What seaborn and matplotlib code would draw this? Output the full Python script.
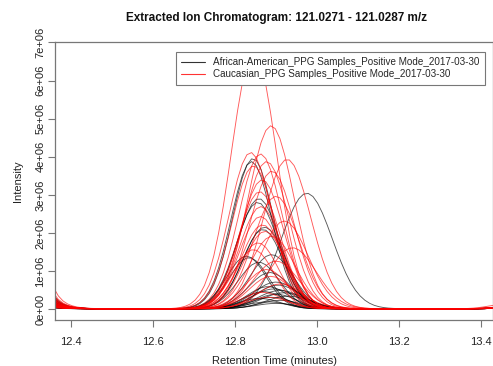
import numpy as np
import pandas as pd
import matplotlib
matplotlib.use("Agg")
import matplotlib.pyplot as plt
import seaborn as sns

# Peak table per sample: apex retention time (min), apex intensity (counts), peak sigma (min)
aa_rt = [12.844, 12.840, 12.975, 12.858, 12.855, 12.872, 12.868, 12.828, 12.834, 12.889,
         12.858, 12.885, 12.900, 12.905, 12.880, 12.895, 12.910, 12.870, 12.920, 12.900,
         12.930, 12.890, 12.860, 12.910, 12.880, 12.900]
aa_int = [3.94e6, 3.86e6, 3.03e6, 2.89e6, 2.79e6, 2.14e6, 2.08e6, 1.38e6, 1.34e6, 1.42e6,
          1.22e6, 0.95e6, 0.70e6, 0.62e6, 0.58e6, 0.52e6, 0.48e6, 0.45e6, 0.42e6, 0.38e6,
          0.33e6, 0.30e6, 0.27e6, 0.22e6, 0.18e6, 0.14e6]
aa_sigma = [0.050, 0.050, 0.062, 0.052, 0.052, 0.052, 0.050, 0.048, 0.048, 0.052,
            0.050, 0.052, 0.055, 0.055, 0.050, 0.055, 0.055, 0.050, 0.055, 0.050,
            0.055, 0.050, 0.050, 0.050, 0.050, 0.050]
# intensity of the preceding peak's tail at the start of the window
aa_lead = [0.30e6, 0.22e6, 0.16e6, 0.11e6, 0.07e6, 0.26e6, 0.04e6, 0.19e6, 0.13e6, 0.06e6,
           0.09e6, 0.20e6, 0.03e6, 0.15e6, 0.05e6, 0.10e6, 0.24e6, 0.07e6, 0.02e6, 0.12e6,
           0.05e6, 0.17e6, 0.08e6, 0.02e6, 0.10e6, 0.04e6]
# intensity of the following peak at the end of the window
aa_trail = [0.01e6, 0.02e6, 0.03e6, 0.01e6, 0.02e6, 0.01e6, 0.01e6, 0.03e6, 0.01e6, 0.02e6,
            0.01e6, 0.01e6, 0.02e6, 0.01e6, 0.03e6, 0.01e6, 0.01e6, 0.02e6, 0.01e6, 0.01e6,
            0.02e6, 0.01e6, 0.01e6, 0.02e6, 0.01e6, 0.01e6]

cau_rt = [12.846, 12.888, 12.838, 12.862, 12.877, 12.927, 12.890, 12.845, 12.866, 12.860,
          12.863, 12.900, 12.862, 12.867, 12.873, 12.890, 12.920, 12.856, 12.845, 12.877,
          12.887, 12.867, 12.900, 12.940, 12.910, 12.880]
cau_int = [6.75e6, 4.80e6, 4.10e6, 4.06e6, 3.86e6, 3.92e6, 3.61e6, 3.75e6, 3.38e6, 3.07e6,
           2.68e6, 2.95e6, 2.42e6, 2.20e6, 2.03e6, 1.90e6, 2.30e6, 1.73e6, 1.55e6, 1.03e6,
           0.85e6, 0.43e6, 1.25e6, 1.60e6, 0.65e6, 0.30e6]
cau_sigma = [0.055, 0.056, 0.052, 0.053, 0.055, 0.058, 0.055, 0.052, 0.053, 0.052,
             0.052, 0.056, 0.052, 0.052, 0.052, 0.055, 0.058, 0.050, 0.050, 0.052,
             0.052, 0.050, 0.055, 0.058, 0.055, 0.050]
cau_lead = [0.48e6, 0.15e6, 0.25e6, 0.09e6, 0.20e6, 0.06e6, 0.30e6, 0.11e6, 0.04e6, 0.16e6,
            0.22e6, 0.08e6, 0.13e6, 0.35e6, 0.05e6, 0.18e6, 0.10e6, 0.03e6, 0.27e6, 0.07e6,
            0.12e6, 0.21e6, 0.03e6, 0.15e6, 0.08e6, 0.05e6]
cau_trail = [0.02e6, 0.12e6, 0.03e6, 0.01e6, 0.05e6, 0.02e6, 0.01e6, 0.03e6, 0.02e6, 0.04e6,
             0.01e6, 0.02e6, 0.01e6, 0.03e6, 0.01e6, 0.02e6, 0.01e6, 0.02e6, 0.01e6, 0.03e6,
             0.01e6, 0.01e6, 0.02e6, 0.01e6, 0.01e6, 0.01e6]

group_names = ["African-American_PPG Samples_Positive Mode_2017-03-30",
               "Caucasian_PPG Samples_Positive Mode_2017-03-30"]
group_colors = ["black", "red"]

title = "Extracted Ion Chromatogram: 121.0271 - 121.0287 m/z"
x_ticks = [12.4, 12.6, 12.8, 13.0, 13.2, 13.4]
y_ticks = [0, 1e6, 2e6, 3e6, 4e6, 5e6, 6e6, 7e6]
y_tick_labels = ["0e+00", "1e+06", "2e+06", "3e+06", "4e+06", "5e+06", "6e+06", "7e+06"]

# MS1 scan times across the extraction window
scan_times = np.arange(12.30, 13.50, 0.0115)


def trace(rt, height, sigma, lead, trail):
    peak = height * np.exp(-0.5 * ((scan_times - rt) / sigma) ** 2)
    tail_in = lead * np.exp(-(scan_times - 12.361) / 0.023)
    tail_out = trail * np.exp(-0.5 * ((scan_times - 13.46) / 0.04) ** 2)
    return peak + tail_in + tail_out + 0.015e6


rows = []
groups = [(group_names[0], aa_rt, aa_int, aa_sigma, aa_lead, aa_trail),
          (group_names[1], cau_rt, cau_int, cau_sigma, cau_lead, cau_trail)]
for gname, rts, ints, sigs, leads, trails in groups:
    for i, (rt, h, s, ld, tr) in enumerate(zip(rts, ints, sigs, leads, trails)):
        y = trace(rt, h, s, ld, tr)
        rows.append(pd.DataFrame({"time": scan_times, "intensity": y,
                                  "sample": f"{gname}_{i}", "group": gname}))
df = pd.concat(rows, ignore_index=True)

sns.set_theme(style="white")
plt.rcParams["font.family"] = ["Liberation Sans", "DejaVu Sans"]

W, H = 493, 366
fig = plt.figure(figsize=(W / 100, H / 100), dpi=100)
ax = fig.add_axes([55 / W, 1 - 320 / H, (W - 55) / W, (320 - 42) / H])

sns.lineplot(data=df, x="time", y="intensity", hue="group", units="sample",
             estimator=None, palette=dict(zip(group_names, group_colors)),
             hue_order=group_names, linewidth=0.65, alpha=0.65, ax=ax, legend=False,
             sort=False)

ax.set_xlim(12.361, 13.429)
ax.set_ylim(-0.28e6, 7.01e6)
ax.set_xticks(x_ticks)
ax.set_xticklabels([f"{t:.1f}" for t in x_ticks], fontsize=8, color="#222222")
ax.set_yticks(y_ticks)
ax.set_yticklabels(y_tick_labels, fontsize=8, rotation=90, va="center", color="#222222")
ax.tick_params(axis="both", direction="out", length=5, width=0.8, color="#777777",
               bottom=True, left=True)
ax.tick_params(axis="x", pad=7)
ax.tick_params(axis="y", pad=2)
for sp in ax.spines.values():
    sp.set_color("#777777")
    sp.set_linewidth(0.9)

ax.set_xlabel("Retention Time (minutes)", fontsize=8, color="#222222", labelpad=7)
ax.set_ylabel("Intensity", fontsize=8, color="#222222", labelpad=9)
fig.text(276 / W, 1 - 18 / H, title, ha="center", va="center", fontsize=8.5,
         fontweight="bold", color="#111111")

handles = [plt.Line2D([], [], color=c, lw=0.8, alpha=0.8) for c in group_colors]
leg = ax.legend(handles, group_names, loc="upper left",
                bbox_to_anchor=(176 / W, 1 - 52 / H), bbox_transform=fig.transFigure,
                fontsize=7.1, frameon=True, fancybox=False, framealpha=1,
                edgecolor="#777777", handlelength=2.4, handletextpad=0.8,
                borderpad=0.55, labelspacing=0.2, borderaxespad=0)
leg.get_frame().set_linewidth(0.8)

fig.savefig("out.png", dpi=100)
